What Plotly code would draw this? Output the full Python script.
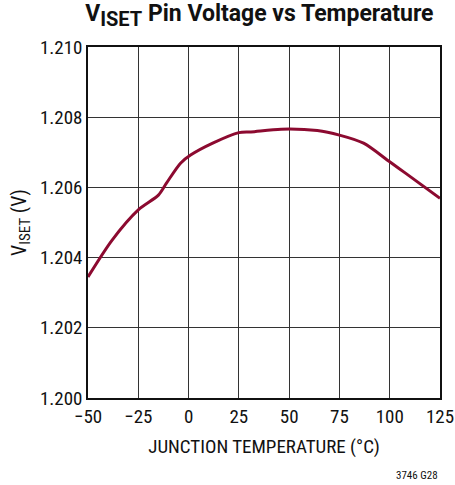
import plotly.graph_objects as go

# Reference voltage on the ISET pin across junction temperature
temp_c = [-50, -38, -25, -15, -11, -4, 1, 12, 25, 31, 46, 64, 75, 87, 100, 108, 125]
v_iset = [1.20345, 1.2045, 1.20536, 1.20578, 1.20612, 1.20669, 1.20692, 1.20726,
          1.20756, 1.20758, 1.20766, 1.20762, 1.20749, 1.20726, 1.20673, 1.2064, 1.20569]

x_ticks = [-50, -25, 0, 25, 50, 75, 100, 125]
x_tick_text = ["\u221250", "\u221225", "0", "25", "50", "75", "100", "125"]
y_ticks = [1.200, 1.202, 1.204, 1.206, 1.208, 1.210]
y_tick_text = ["1.200", "1.202", "1.204", "1.206", "1.208", "1.210"]

body_font = "Roboto Condensed, Roboto, Liberation Sans, Arial"
title_font = "Roboto, Liberation Sans, Arial"

fig = go.Figure()
fig.add_trace(go.Scatter(
    x=temp_c, y=v_iset, mode="lines",
    line=dict(color="#8c0a30", width=3, shape="spline", smoothing=0.8),
    hoverinfo="skip",
))

fig.update_layout(
    width=455, height=485,
    margin=dict(l=88, r=15, t=47, b=87, autoexpand=False),
    paper_bgcolor="white", plot_bgcolor="white",
    showlegend=False,
    font=dict(family=body_font, color="#111", size=19),
    title=dict(
        text="<b>V<sub><span style='font-size:20px'>ISET</span></sub> Pin Voltage vs Temperature</b>",
        x=0.57, xanchor="center", y=0.99, yanchor="top",
        font=dict(family=title_font, size=23, color="#111"),
    ),
    xaxis=dict(
        range=[-50, 125], tickvals=x_ticks, ticktext=x_tick_text,
        showgrid=True, gridcolor="#333", gridwidth=1,
        showline=True, linecolor="#111", linewidth=1.5, mirror=True,
        ticks="", zeroline=False, tickfont=dict(size=19),
        automargin=False, ticklabeloverflow="allow",
        title=dict(text="JUNCTION TEMPERATURE (\u00b0C)", font=dict(size=19), standoff=13),
    ),
    yaxis=dict(
        range=[1.200, 1.210], tickvals=y_ticks, ticktext=y_tick_text,
        showgrid=True, gridcolor="#333", gridwidth=1,
        showline=True, linecolor="#111", linewidth=1.5, mirror=True,
        ticks="", zeroline=False, tickfont=dict(size=19),
        automargin=False, ticklabeloverflow="allow",
        title=dict(text="V<sub><span style='font-size:15px'>ISET</span></sub> (V)",
                   font=dict(size=20), standoff=8),
    ),
    annotations=[dict(
        text="3746 G28", xref="paper", yref="paper", x=1.0, y=-0.222,
        xanchor="right", yanchor="middle", showarrow=False,
        font=dict(size=11, color="#111"),
    )],
)

fig.write_html("out.html")
